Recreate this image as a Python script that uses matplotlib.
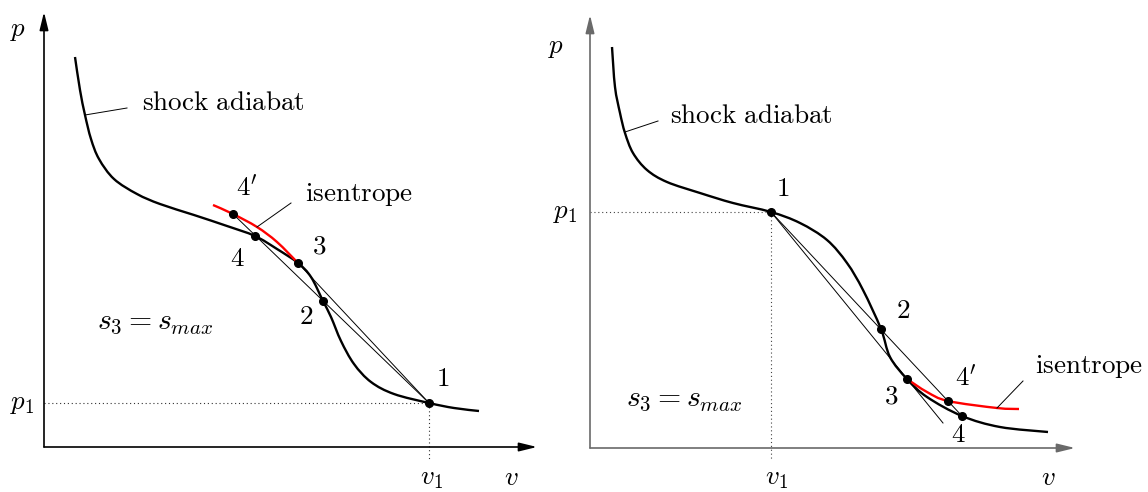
import matplotlib
matplotlib.use("Agg")
import matplotlib.pyplot as plt
from matplotlib.path import Path
from matplotlib.patches import PathPatch

plt.rcParams['mathtext.fontset'] = 'cm'

# ---------------- left panel data (v, p) ----------------
L_shock_v = [31, 36, 41, 47, 55, 70, 93, 116, 150, 183, 211, 233, 254, 267, 279, 287, 297, 310, 327, 350, 385, 410, 435]
L_shock_p = [390, 357, 332, 308, 288, 268, 253, 243, 232, 221, 211, 198, 184, 170, 146, 130, 106, 83, 65, 53, 44, 39, 36]
L_isen_v = [169, 189, 213, 233, 254]
L_isen_p = [242, 233, 220, 205, 184]
L_pt_names = ['1', '2', '3', '4', "4'"]
L_pt_v = [385, 279, 254, 211, 189]
L_pt_p = [44, 146, 184, 211, 233]

# ---------------- right panel data (v, p) ----------------
R_shock_v = [22, 25, 30, 35, 43, 57, 77, 110, 143, 181, 210, 237, 257, 273, 291, 300, 317, 337, 372, 410, 458]
R_shock_p = [401, 361, 335, 315, 295, 278, 266, 255, 245, 236, 225, 208, 185, 158, 119, 91, 69, 51, 32, 21, 16]
R_isen_v = [317, 337, 358, 407, 429]
R_isen_p = [69, 56, 47, 40, 39]
R_pt_names = ['1', '2', '3', '4', "4'"]
R_pt_v = [181, 291, 317, 372, 358]
R_pt_p = [236, 119, 69, 32, 47]
R_tangent_end = (353, 25)

W, H = 1148, 492
fig = plt.figure(figsize=(W / 100, H / 100), dpi=100)


def smooth(ax, xs, ys, **kw):
    """Draw a smooth curve through the read points (Catmull-Rom as cubic Bezier)."""
    pts = list(zip(xs, ys))
    verts = [pts[0]]
    codes = [Path.MOVETO]
    n = len(pts)
    for i in range(n - 1):
        p0 = pts[i - 1] if i > 0 else pts[i]
        p1 = pts[i]
        p2 = pts[i + 1]
        p3 = pts[i + 2] if i + 2 < n else pts[i + 1]
        c1 = (p1[0] + (p2[0] - p0[0]) / 6.0, p1[1] + (p2[1] - p0[1]) / 6.0)
        c2 = (p2[0] - (p3[0] - p1[0]) / 6.0, p2[1] - (p3[1] - p1[1]) / 6.0)
        verts += [c1, c2, p2]
        codes += [Path.CURVE4] * 3
    ax.add_patch(PathPatch(Path(verts, codes), fill=False, capstyle='butt', **kw))


def setup(ax, xl, yl):
    ax.set_xlim(*xl)
    ax.set_ylim(*yl)
    ax.axis('off')


def axes_arrows(ax, xtip, ytip, color):
    kw = dict(arrowstyle='-|>,head_length=0.9,head_width=0.22', lw=1.2, color=color,
              shrinkA=0, shrinkB=0, mutation_scale=12)
    ax.annotate('', xy=(xtip, 0), xytext=(0, 0), arrowprops=kw, annotation_clip=False)
    ax.annotate('', xy=(0, ytip), xytext=(0, 0), arrowprops=kw, annotation_clip=False)


FS = 19.5


def T(ax, x, y, s, ha='center', va='center', fs=FS):
    ax.text(x, y, s, ha=ha, va=va, fontsize=fs, clip_on=False)


CURVE_LW = 1.7
THIN_LW = 0.7
RED = '#ff0000'
DOT = (0, (1, 2.5))
MS = 5.5

# ---------------- left ----------------
axL = fig.add_axes([0, 0, 545 / W, 1])
setup(axL, (-44, 501), (-45, 447))
axes_arrows(axL, 493, 435, 'black')
i1 = L_pt_names.index('1'); i3 = L_pt_names.index('3'); i4p = L_pt_names.index("4'")
axL.plot([0, L_pt_v[i1]], [L_pt_p[i1], L_pt_p[i1]], ls=DOT, lw=0.8, color='#333333')
axL.plot([L_pt_v[i1], L_pt_v[i1]], [L_pt_p[i1], -13], ls=DOT, lw=0.8, color='#333333', clip_on=False)
axL.plot([L_pt_v[i1], L_pt_v[i4p]], [L_pt_p[i1], L_pt_p[i4p]], color='black', lw=THIN_LW)
axL.plot([L_pt_v[i1], L_pt_v[i3]], [L_pt_p[i1], L_pt_p[i3]], color='black', lw=THIN_LW)
smooth(axL, L_shock_v, L_shock_p, color='black', lw=CURVE_LW)
smooth(axL, L_isen_v, L_isen_p, color=RED, lw=CURVE_LW)
axL.plot(L_pt_v, L_pt_p, 'o', color='black', ms=MS, ls='none')
axL.plot([41, 83], [332, 339], color='black', lw=THIN_LW)
axL.plot([213, 247], [220, 244], color='black', lw=THIN_LW)
T(axL, -26, 417, r'$p$')
T(axL, -22, 44, r'$p_1$')
T(axL, 388, -31, r'$v_1$')
T(axL, 467, -31, r'$v$')
T(axL, 98, 344, r'$\mathrm{shock\ adiabat}$', ha='left')
T(axL, 261, 253, r'$\mathrm{isentrope}$', ha='left')
T(axL, 203, 259, r"$4'$")
T(axL, 275, 200, r'$3$')
T(axL, 193, 188, r'$4$')
T(axL, 262, 130, r'$2$')
T(axL, 399, 68, r'$1$')
T(axL, 111, 126, r'$s_3 = s_{max}$', fs=21.5)

# ---------------- right ----------------
axR = fig.add_axes([545 / W, 0, 603 / W, 1])
setup(axR, (-45, 558), (-44, 448))
axes_arrows(axR, 485, 433, '#6a6a6a')
j1 = R_pt_names.index('1'); j4 = R_pt_names.index('4')
axR.plot([0, R_pt_v[j1]], [R_pt_p[j1], R_pt_p[j1]], ls=DOT, lw=0.8, color='#444444')
axR.plot([R_pt_v[j1], R_pt_v[j1]], [R_pt_p[j1], -12], ls=DOT, lw=0.8, color='#444444', clip_on=False)
axR.plot([R_pt_v[j1], R_pt_v[j4]], [R_pt_p[j1], R_pt_p[j4]], color='black', lw=THIN_LW)
axR.plot([R_pt_v[j1], R_tangent_end[0]], [R_pt_p[j1], R_tangent_end[1]], color='black', lw=THIN_LW)
smooth(axR, R_shock_v, R_shock_p, color='black', lw=CURVE_LW)
smooth(axR, R_isen_v, R_isen_p, color=RED, lw=CURVE_LW)
axR.plot(R_pt_v, R_pt_p, 'o', color='black', ms=MS, ls='none')
axR.plot([35, 68], [316, 327], color='black', lw=THIN_LW)
axR.plot([407, 433], [40, 67], color='black', lw=THIN_LW)
T(axR, -34, 401, r'$p$')
T(axR, -25, 236, r'$p_1$')
T(axR, 187, -30, r'$v_1$')
T(axR, 458, -30, r'$v$')
T(axR, 80, 332, r'$\mathrm{shock\ adiabat}$', ha='left')
T(axR, 445, 81, r'$\mathrm{isentrope}$', ha='left')
T(axR, 193, 259, r'$1$')
T(axR, 313, 137, r'$2$')
T(axR, 301, 51, r'$3$')
T(axR, 376, 70, r"$4'$")
T(axR, 368, 13, r'$4$')
T(axR, 94, 50, r'$s_3 = s_{max}$', fs=21.5)

fig.savefig('out.png', dpi=100)
